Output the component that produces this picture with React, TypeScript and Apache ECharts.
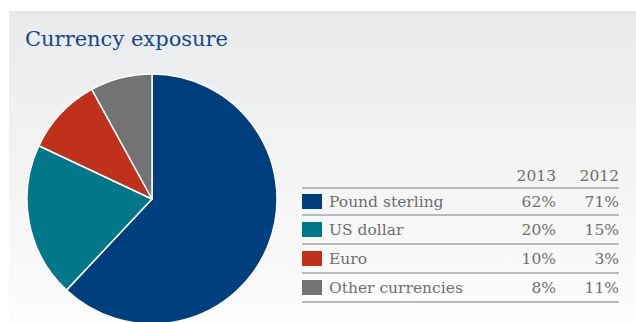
import React, { useEffect, useRef } from "react";
import * as echarts from "echarts";

const categories = ["Pound sterling", "US dollar", "Euro", "Other currencies"];
const values2013 = [62, 20, 10, 8];
const values2012 = [71, 15, 3, 11];
const years = ["2013", "2012"];
const colors = ["#003f7d", "#00788a", "#bf311a", "#737373"];
const title = "Currency exposure";

export default function App() {
  const ref = useRef<HTMLDivElement>(null);
  useEffect(() => {
    document.body.style.margin = "0";
    const chart = echarts.init(ref.current!, null, { renderer: "svg" });
    const font = "'DejaVu Serif', serif";
    const textColor = "#6e6e6e";
    const lineColor = "#a6a6a6";
    const x0 = 302, x1 = 619, c1 = 556, c2 = 619, labelX = 329;
    const lineYs = [188, 215, 244, 273, 302];
    const rowYs = [202, 230, 259, 288];
    const fs = "15.5px";
    const graphic: any[] = [
      {
        type: "rect",
        z: -10,
        silent: true,
        shape: { x: 9, y: 11, width: 627, height: 311 },
        style: {
          fill: new echarts.graphic.LinearGradient(0, 0, 0, 1, [
            { offset: 0, color: "#e9eaeb" },
            { offset: 1, color: "#fdfdfd" },
          ]),
        },
      },
      {
        type: "text",
        left: 25,
        top: 28,
        style: { text: title, font: `21px ${font}`, fill: "#124a8a" },
      },
    ];
    years.forEach((y, i) => {
      graphic.push({
        type: "text",
        x: i === 0 ? c1 : c2,
        y: 176,
        style: { text: y, font: `${fs} ${font}`, fill: textColor, align: "right", verticalAlign: "middle" },
      });
    });
    lineYs.forEach((ly) => {
      graphic.push({
        type: "line",
        shape: { x1: x0, y1: ly, x2: x1, y2: ly },
        style: { stroke: lineColor, lineWidth: 1.5 },
      });
    });
    categories.forEach((c, i) => {
      const ry = rowYs[i];
      graphic.push({
        type: "rect",
        shape: { x: 302, y: ry - 8, width: 20, height: 15 },
        style: { fill: colors[i] },
      });
      graphic.push({
        type: "text",
        x: labelX,
        y: ry,
        style: { text: c, font: `${fs} ${font}`, fill: textColor, verticalAlign: "middle" },
      });
      graphic.push({
        type: "text",
        x: c1,
        y: ry,
        style: { text: values2013[i] + "%", font: `${fs} ${font}`, fill: textColor, align: "right", verticalAlign: "middle" },
      });
      graphic.push({
        type: "text",
        x: c2,
        y: ry,
        style: { text: values2012[i] + "%", font: `${fs} ${font}`, fill: textColor, align: "right", verticalAlign: "middle" },
      });
    });
    chart.setOption({
      animation: false,
      backgroundColor: "#ffffff",
      graphic,
      series: [
        {
          type: "pie",
          center: [152, 199],
          radius: [0, 125],
          startAngle: 90,
          clockwise: true,
          label: { show: false },
          labelLine: { show: false },
          silent: true,
          itemStyle: { borderColor: "#ffffff", borderWidth: 1.5 },
          data: categories.map((c, i) => ({ name: c, value: values2013[i], itemStyle: { color: colors[i] } })),
        },
      ],
    });
    return () => chart.dispose();
  }, []);
  return <div ref={ref} style={{ width: 636, height: 322 }} />;
}
